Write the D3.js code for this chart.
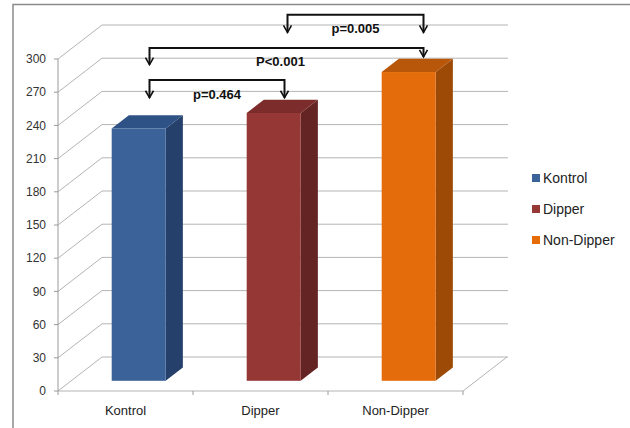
<!DOCTYPE html>
<html>
<head>
<meta charset="utf-8">
<script src="https://cdn.jsdelivr.net/npm/d3@7"></script>
<style>
  body { margin: 0; background: #fff; }
  svg { display: block; font-family: "Liberation Sans", Arial, sans-serif; }
</style>
</head>
<body>
<svg id="chart" width="630" height="428"></svg>
<script>
// data
const categories = ["Kontrol", "Dipper", "Non-Dipper"];
const values = [228, 242, 279];
const yTicks = [0, 30, 60, 90, 120, 150, 180, 210, 240, 270, 300];
const frontColors = ["#3b6399", "#953735", "#e46c0a"];
const sideColors = ["#25406a", "#632423", "#9d4a06"];
const topColors = ["#2e5186", "#7b2c2b", "#b85709"];
// significance brackets: from/to category, bar level and arrow tips (in value units)
const brackets = [
  { from: 0, to: 1, level: 281, tipFrom: 265, tipTo: 265, label: "p=0.464" },
  { from: 0, to: 2, level: 310, tipFrom: 295, tipTo: 302, label: "P<0.001" },
  { from: 1, to: 2, level: 340, tipFrom: 324, tipTo: 324, label: "p=0.005" }
];

const svg = d3.select("#chart");

// 3d box geometry
const plotLeft = 58, plotRight = 463, plotBottom = 391, plotTop = 59;
const depthX = 44, depthY = 34;        // floor depth offset
const barZ0 = 0.3, barZ1 = 0.69;       // bar front/back in depth fraction

const x = d3.scaleBand().domain(categories).range([plotLeft, plotRight]);
const y = d3.scaleLinear().domain([0, 300]).range([plotBottom, plotTop]);
const proj = (px, py, z) => [px + z * depthX, py - z * depthY];

// outer frame
svg.append("path")
  .attr("d", `M13,428 L13,4.5 L630,4.5`)
  .attr("fill", "none").attr("stroke", "#8a8a8a").attr("stroke-width", 1.5);

const grid = svg.append("g").attr("stroke", "#b4b4b4").attr("stroke-width", 1).attr("fill", "none");

// back wall gridlines + side wall diagonals
yTicks.forEach(t => {
  const [bx, by] = proj(plotLeft, y(t), 1);
  grid.append("line").attr("x1", bx).attr("y1", by).attr("x2", plotRight + depthX + 1).attr("y2", by);
  grid.append("line").attr("x1", plotLeft).attr("y1", y(t)).attr("x2", bx).attr("y2", by);
});

// floor front edge and right edge
grid.append("line").attr("x1", plotLeft).attr("y1", plotBottom).attr("x2", plotRight).attr("y2", plotBottom);
const [frx, fry] = proj(plotRight, plotBottom, 1);
grid.append("line").attr("x1", plotRight).attr("y1", plotBottom).attr("x2", frx).attr("y2", fry);

// y axis
const axisG = svg.append("g");
axisG.append("line").attr("x1", plotLeft).attr("x2", plotLeft).attr("y1", y(0)).attr("y2", y(300))
  .attr("stroke", "#9a9a9a");
axisG.selectAll(".tick").data(yTicks).enter().append("line")
  .attr("x1", plotLeft - 4).attr("x2", plotLeft).attr("y1", d => y(d)).attr("y2", d => y(d))
  .attr("stroke", "#9a9a9a");
axisG.selectAll(".ylabel").data(yTicks).enter().append("text")
  .attr("x", plotLeft - 12).attr("y", d => y(d)).attr("dy", "0.35em")
  .attr("text-anchor", "end").attr("font-size", 12).attr("fill", "#333")
  .text(d => d);

// x ticks and labels
const xEdges = categories.map(c => x(c)).concat([plotRight]);
axisG.selectAll(".xtick").data(xEdges).enter().append("line")
  .attr("x1", d => d).attr("x2", d => d).attr("y1", plotBottom).attr("y2", plotBottom + 4)
  .attr("stroke", "#9a9a9a");
axisG.selectAll(".xlabel").data(categories).enter().append("text")
  .attr("x", d => x(d) + x.bandwidth() / 2).attr("y", 410).attr("dy", "0.35em")
  .attr("text-anchor", "middle").attr("font-size", 13).attr("fill", "#222")
  .text(d => d);

// bars
const barW = x.bandwidth() * 0.4;
const bars = svg.selectAll(".bar").data(categories.map((c, i) => ({ c, v: values[i], i })))
  .enter().append("g").attr("class", "bar");

bars.each(function (d) {
  const g = d3.select(this);
  const x0 = x(d.c) + (x.bandwidth() - barW) / 2;
  const x1 = x0 + barW;
  const [fx0, fyb] = proj(x0, y(0), barZ0);
  const [fx1] = proj(x1, y(0), barZ0);
  const [, fyt] = proj(x0, y(d.v), barZ0);
  const [bx0, byt] = proj(x0, y(d.v), barZ1);
  const [bx1, byb] = proj(x1, y(0), barZ1);
  // side
  g.append("path")
    .attr("d", `M${fx1},${fyb} L${fx1},${fyt} L${bx1},${byt} L${bx1},${byb} Z`)
    .attr("fill", sideColors[d.i]);
  // top
  g.append("path")
    .attr("d", `M${fx0},${fyt} L${fx1},${fyt} L${bx1},${byt} L${bx0},${byt} Z`)
    .attr("fill", topColors[d.i]);
  // front
  g.append("rect")
    .attr("x", fx0).attr("y", fyt).attr("width", fx1 - fx0).attr("height", fyb - fyt)
    .attr("fill", frontColors[d.i]);
});

// significance brackets
const arrowX = i => x(categories[i]) + x.bandwidth() / 2 + 24;
const br = svg.append("g");
brackets.forEach(b => {
  const xa = arrowX(b.from), xb = arrowX(b.to) + (b.to === 2 ? 4 : 0);
  const xaa = b.from === 1 ? xa + 3 : xa;
  const ly = y(b.level);
  const ta = y(b.tipFrom), tb = y(b.tipTo);
  br.append("path")
    .attr("d", `M${xaa},${ta} L${xaa},${ly} L${xb},${ly} L${xb},${tb}`)
    .attr("fill", "none").attr("stroke", "#111").attr("stroke-width", 2);
  [[xaa, ta], [xb, tb]].forEach(([ax, ay]) => {
    br.append("path")
      .attr("d", `M${ax - 4},${ay - 7} L${ax},${ay} L${ax + 4},${ay - 7}`)
      .attr("fill", "none").attr("stroke", "#111").attr("stroke-width", 1.6);
  });
  br.append("text")
    .attr("x", (xaa + xb) / 2 - (b.from === 0 && b.to === 2 ? 6 : 0))
    .attr("y", ly + 14).attr("dy", "0.35em")
    .attr("text-anchor", "middle").attr("font-size", 13).attr("font-weight", "bold")
    .attr("fill", "#111").text(b.label);
});

// legend
const legend = svg.append("g").attr("transform", "translate(532,178)");
categories.forEach((c, i) => {
  const row = legend.append("g").attr("transform", `translate(0,${i * 31})`);
  row.append("rect").attr("x", 0).attr("y", -4).attr("width", 8).attr("height", 8)
    .attr("fill", frontColors[i]);
  row.append("text").attr("x", 11).attr("y", 0).attr("dy", "0.35em")
    .attr("font-size", 14).attr("fill", "#222").text(c);
});
</script>
</body>
</html>
